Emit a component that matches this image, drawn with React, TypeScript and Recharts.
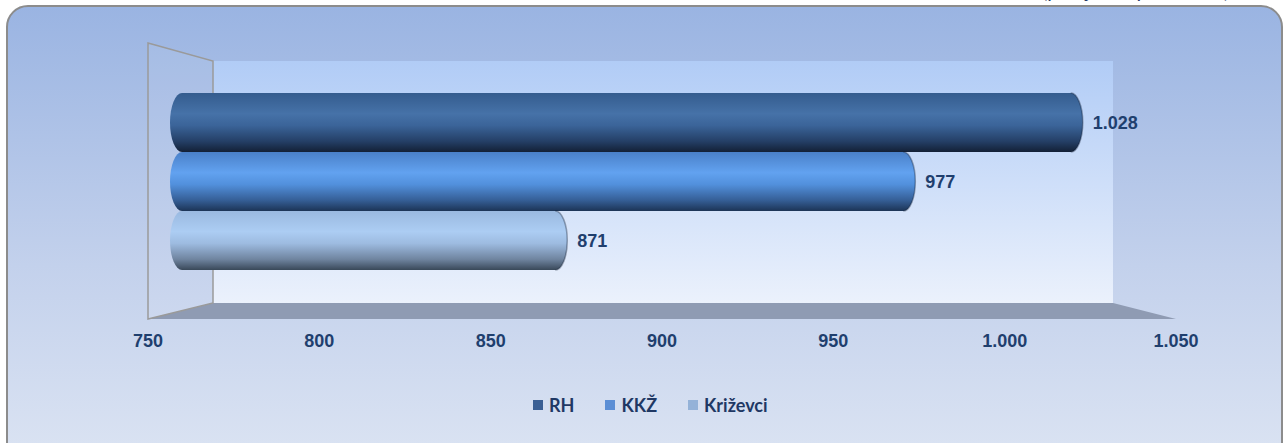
import { ComposedChart, Bar, XAxis, YAxis, ReferenceArea, LabelList } from "recharts";

// data
const categories = ["Prosječna plaća"];
const seriesNames = ["RH", "KKŽ", "Križevci"];
const seriesValues = [1028, 977, 871];
const xTicks = [750, 800, 850, 900, 950, 1000, 1050];

// legend swatches + cylinder shading (top -> bottom)
const seriesColors = ["#3a5f94", "#5b8ed5", "#94b2d8"];
const seriesShades = [
    ["#345c8e", "#4672a8", "#3b6499", "#243f66", "#132036"],
    ["#4a80c8", "#62a2f0", "#5290dc", "#355e95", "#1c3456"],
    ["#9ab9e0", "#accdf3", "#9dbbe0", "#6f849f", "#394859"],
];
const shadeStops = ["0%", "35%", "55%", "82%", "100%"];

const data = categories.map((name) => {
    const row: Record<string, string | number> = { name };
    seriesNames.forEach((s, i) => {
        row[s] = seriesValues[i];
    });
    return row;
});

const fmt = (v: number) => String(v).replace(/\B(?=(\d{3})+(?!\d))/g, ".");

const TEXT_BLUE = "#1f3f6e";
const FONT = "'Liberation Sans', Arial, sans-serif";
const PAD_TOP = 50;
const PAD_BOTTOM = 49;

// 3D frame: left wall, back wall, floor (area rect = bar band, extend by y padding)
const Frame = (props: any) => {
    const { x, width } = props;
    if (x == null || props.y == null) return null;
    const y = props.y - PAD_TOP;
    const height = props.height + PAD_TOP + PAD_BOTTOM;
    const bx = x + 65;
    const bxr = x + width - 63;
    const by = y + 18;
    const bb = y + height - 16;
    const yb = y + height;
    return (
        <g>
            <rect x={bx} y={by} width={bxr - bx} height={bb - by} fill="url(#backWall)" />
            <polygon
                points={`${bx},${bb} ${bxr},${bb} ${x + width},${yb} ${x},${yb}`}
                fill="#8f9bb3"
            />
            <polygon
                points={`${x},${y} ${bx},${by} ${bx},${bb} ${x},${yb}`}
                fill="rgba(255,255,255,0.06)"
                stroke="#9a9a9a"
                strokeWidth={1.5}
            />
        </g>
    );
};

const Cylinder = (props: any) => {
    const { x, y, width, height, fill } = props;
    if (!width || width <= 0) return null;
    const rx = 12;
    const ry = height / 2;
    const d = `M${x + rx},${y} H${x + width - rx} A${rx},${ry} 0 0 1 ${x + width - rx},${y + height} H${x + rx} A${rx},${ry} 0 0 1 ${x + rx},${y} Z`;
    return (
        <g>
            <path d={d} fill={fill} />
            <path
                d={`M${x + width - rx},${y} A${rx},${ry} 0 0 1 ${x + width - rx},${y + height}`}
                fill="none"
                stroke="rgba(10,20,40,0.35)"
                strokeWidth={1.5}
            />
        </g>
    );
};

export default function App() {
    return (
        <div style={{ position: "relative", width: 1285, height: 443, overflow: "hidden" }}>
            <style>{"body{margin:0}"}</style>
            <div
                style={{
                    position: "absolute",
                    left: 6,
                    top: 5,
                    width: 1273,
                    height: 470,
                    border: "2px solid #8c8c8c",
                    borderRadius: 22,
                    background: "linear-gradient(180deg, #9ab4e2 0%, #c3d1ec 55%, #dde5f3 100%)",
                }}
            />
            <div
                style={{
                    position: "absolute",
                    left: 1042,
                    top: -22,
                    fontFamily: "Lato, sans-serif",
                    fontSize: 20,
                    color: "#1f3864",
                    whiteSpace: "nowrap",
                }}
            >
                (prosječna plaća u kn)
            </div>
            <div style={{ position: "absolute", left: 0, top: 0 }}>
                <ComposedChart
                    width={1285}
                    height={443}
                    data={data}
                    layout="vertical"
                    margin={{ top: 43, left: 148, right: 109, bottom: 94 }}
                    barCategoryGap={0}
                    barGap={0}
                >
                    <defs>
                        <linearGradient id="backWall" x1="0" y1="0" x2="0" y2="1">
                            <stop offset="0%" stopColor="#b1ccf6" />
                            <stop offset="100%" stopColor="#ebf1fc" />
                        </linearGradient>
                        {seriesShades.map((shades, i) => (
                            <linearGradient key={i} id={`cyl-${i}`} x1="0" y1="0" x2="0" y2="1">
                                {shades.map((c, j) => (
                                    <stop key={j} offset={shadeStops[j]} stopColor={c} />
                                ))}
                            </linearGradient>
                        ))}
                    </defs>
                    <XAxis
                        xAxisId="bar"
                        type="number"
                        domain={[750, 1050]}
                        padding={{ left: 22, right: 21 }}
                        allowDataOverflow
                        height={0}
                        hide
                    />
                    <XAxis
                        xAxisId="front"
                        type="number"
                        domain={[750, 1050]}
                        allowDataOverflow
                        ticks={xTicks}
                        tickFormatter={fmt}
                        axisLine={false}
                        tickLine={false}
                        tickSize={0}
                        tickMargin={15}
                        height={30}
                        tick={{ fill: TEXT_BLUE, fontSize: 18, fontWeight: 700, fontFamily: FONT }}
                    />
                    <YAxis
                        type="category"
                        dataKey="name"
                        hide
                        padding={{ top: PAD_TOP, bottom: PAD_BOTTOM }}
                    />
                    <ReferenceArea
                        xAxisId="front"
                        x1={750}
                        x2={1050}
                        ifOverflow="visible"
                        shape={(p: any) => <Frame {...p} />}
                    />
                    {seriesNames.map((s, i) => (
                        <Bar
                            key={s}
                            dataKey={s}
                            xAxisId="bar"
                            fill={`url(#cyl-${i})`}
                            shape={(p: any) => <Cylinder {...p} />}
                            isAnimationActive={false}
                        >
                            <LabelList
                                dataKey={s}
                                position="right"
                                offset={10}
                                formatter={(v: any) => fmt(Number(v))}
                                style={{ fill: TEXT_BLUE, fontSize: 18, fontWeight: 700, fontFamily: FONT }}
                            />
                        </Bar>
                    ))}
                </ComposedChart>
            </div>
            <div
                style={{
                    position: "absolute",
                    left: 533,
                    top: 394,
                    display: "flex",
                    alignItems: "center",
                    fontFamily: "Lato, sans-serif",
                    fontWeight: 700,
                    fontSize: 18,
                    color: "#1f3864",
                }}
            >
                {seriesNames.map((s, i) => (
                    <div key={s} style={{ display: "flex", alignItems: "center", marginRight: 31 }}>
                        <span
                            style={{
                                display: "inline-block",
                                width: 10,
                                height: 10,
                                background: seriesColors[i],
                                marginRight: 6,
                            }}
                        />
                        <span>{s}</span>
                    </div>
                ))}
            </div>
        </div>
    );
}
